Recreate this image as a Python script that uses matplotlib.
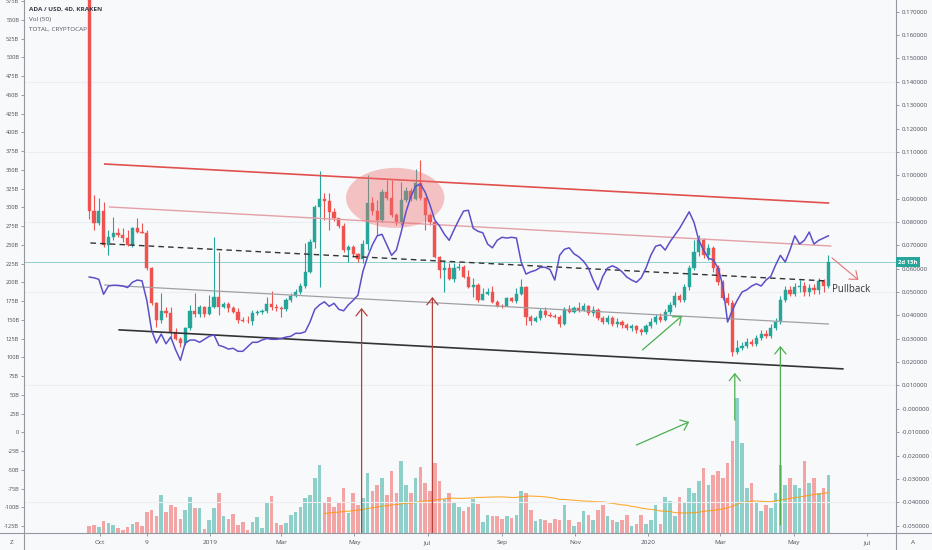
import numpy as np
import pandas as pd
import matplotlib
matplotlib.use("Agg")
import matplotlib.pyplot as plt
import matplotlib.dates as mdates
from matplotlib.patches import Ellipse
from matplotlib.lines import Line2D

plt.rcParams['font.family'] = ['Open Sans', 'DejaVu Sans']

# ---- data (4D bars, ADA/USD on Kraken) ----
first_bar = "2018-09-22"
first_open = 0.2050

close = [
    0.0848, 0.0797, 0.0848, 0.0701, 0.0734, 0.0754, 0.0744, 0.0730, 0.0701, 0.0773,
    0.0758, 0.0754, 0.0602, 0.0452, 0.0380, 0.0420, 0.0412, 0.0330, 0.0298, 0.0281,
    0.0345, 0.0420, 0.0406, 0.0435, 0.0406, 0.0437, 0.0480, 0.0437, 0.0448, 0.0430,
    0.0416, 0.0380, 0.0377, 0.0374, 0.0412, 0.0415, 0.0419, 0.0448, 0.0437, 0.0432,
    0.0426, 0.0466, 0.0484, 0.0502, 0.0526, 0.0587, 0.0716, 0.0863, 0.0897, 0.0890,
    0.0844, 0.0816, 0.0783, 0.0680, 0.0694, 0.0663, 0.0640, 0.0706, 0.0880, 0.0848,
    0.0808, 0.0930, 0.0901, 0.0830, 0.0794, 0.0894, 0.0934, 0.0897, 0.0965, 0.0901,
    0.0830, 0.0801, 0.0651, 0.0594, 0.0603, 0.0555, 0.0602, 0.0606, 0.0566, 0.0520,
    0.0530, 0.0466, 0.0492, 0.0500, 0.0459, 0.0440, 0.0439, 0.0473, 0.0463, 0.0490,
    0.0520, 0.0395, 0.0377, 0.0388, 0.0419, 0.0402, 0.0398, 0.0395, 0.0363, 0.0426,
    0.0416, 0.0433, 0.0423, 0.0440, 0.0410, 0.0423, 0.0389, 0.0372, 0.0389, 0.0363,
    0.0372, 0.0359, 0.0346, 0.0355, 0.0338, 0.0329, 0.0355, 0.0372, 0.0393, 0.0380,
    0.0415, 0.0445, 0.0483, 0.0466, 0.0522, 0.0603, 0.0671, 0.0723, 0.0659, 0.0689,
    0.0603, 0.0543, 0.0475, 0.0453, 0.0243, 0.0261, 0.0269, 0.0286, 0.0278, 0.0303,
    0.0320, 0.0312, 0.0346, 0.0372, 0.0466, 0.0509, 0.0492, 0.0522, 0.0526, 0.0500,
    0.0517, 0.0509, 0.0548, 0.0526, 0.0629]

high = [
    0.2150, 0.0915, 0.0903, 0.0887, 0.0766, 0.0823, 0.0774, 0.0774, 0.0766, 0.0780,
    0.0817, 0.0796, 0.0766, 0.0609, 0.0459, 0.0496, 0.0437, 0.0437, 0.0346, 0.0309,
    0.0352, 0.0445, 0.0496, 0.0445, 0.0440, 0.0487, 0.0736, 0.0673, 0.0457, 0.0459,
    0.0440, 0.0432, 0.0393, 0.0398, 0.0423, 0.0423, 0.0427, 0.0480, 0.0506, 0.0449,
    0.0440, 0.0475, 0.0495, 0.0513, 0.0539, 0.0711, 0.0726, 0.0873, 0.1019, 0.0925,
    0.0923, 0.0860, 0.0817, 0.0794, 0.0701, 0.0701, 0.0667, 0.0723, 0.1001, 0.0908,
    0.0894, 0.0940, 0.0980, 0.0980, 0.0837, 0.0972, 0.0951, 0.0945, 0.1025, 0.1065,
    0.0908, 0.0837, 0.0808, 0.0654, 0.0637, 0.0623, 0.0623, 0.0626, 0.0616, 0.0594,
    0.0560, 0.0537, 0.0516, 0.0516, 0.0526, 0.0466, 0.0449, 0.0480, 0.0479, 0.0516,
    0.0557, 0.0526, 0.0402, 0.0398, 0.0432, 0.0437, 0.0415, 0.0406, 0.0402, 0.0437,
    0.0445, 0.0440, 0.0459, 0.0453, 0.0445, 0.0440, 0.0432, 0.0398, 0.0402, 0.0398,
    0.0389, 0.0380, 0.0368, 0.0363, 0.0359, 0.0346, 0.0363, 0.0389, 0.0406, 0.0410,
    0.0427, 0.0457, 0.0500, 0.0492, 0.0534, 0.0616, 0.0723, 0.0744, 0.0731, 0.0706,
    0.0697, 0.0616, 0.0552, 0.0496, 0.0466, 0.0295, 0.0286, 0.0303, 0.0298, 0.0316,
    0.0338, 0.0338, 0.0363, 0.0389, 0.0483, 0.0526, 0.0526, 0.0539, 0.0552, 0.0543,
    0.0534, 0.0534, 0.0560, 0.0557, 0.0659]

low = [
    0.0813, 0.0766, 0.0787, 0.0694, 0.0659, 0.0723, 0.0736, 0.0716, 0.0697, 0.0694,
    0.0753, 0.0751, 0.0594, 0.0445, 0.0352, 0.0368, 0.0395, 0.0309, 0.0295, 0.0266,
    0.0273, 0.0338, 0.0395, 0.0395, 0.0395, 0.0402, 0.0432, 0.0402, 0.0432, 0.0416,
    0.0410, 0.0366, 0.0372, 0.0366, 0.0359, 0.0402, 0.0406, 0.0409, 0.0423, 0.0419,
    0.0395, 0.0419, 0.0459, 0.0479, 0.0492, 0.0517, 0.0580, 0.0687, 0.0523, 0.0808,
    0.0766, 0.0804, 0.0774, 0.0673, 0.0630, 0.0651, 0.0630, 0.0623, 0.0680, 0.0830,
    0.0744, 0.0801, 0.0894, 0.0823, 0.0787, 0.0787, 0.0885, 0.0890, 0.0894, 0.0894,
    0.0766, 0.0787, 0.0644, 0.0560, 0.0502, 0.0552, 0.0544, 0.0594, 0.0560, 0.0516,
    0.0480, 0.0459, 0.0466, 0.0487, 0.0452, 0.0435, 0.0432, 0.0440, 0.0457, 0.0454,
    0.0487, 0.0359, 0.0359, 0.0372, 0.0380, 0.0395, 0.0393, 0.0389, 0.0352, 0.0359,
    0.0409, 0.0410, 0.0416, 0.0419, 0.0402, 0.0398, 0.0380, 0.0363, 0.0363, 0.0355,
    0.0350, 0.0346, 0.0338, 0.0333, 0.0325, 0.0316, 0.0320, 0.0346, 0.0363, 0.0372,
    0.0376, 0.0406, 0.0436, 0.0457, 0.0457, 0.0509, 0.0594, 0.0654, 0.0646, 0.0637,
    0.0586, 0.0530, 0.0466, 0.0445, 0.0226, 0.0235, 0.0252, 0.0261, 0.0269, 0.0269,
    0.0295, 0.0303, 0.0303, 0.0338, 0.0363, 0.0457, 0.0483, 0.0483, 0.0500, 0.0483,
    0.0483, 0.0492, 0.0492, 0.0500, 0.0517]

# volume, millions of ADA
volume = [
    15, 17, 13, 25, 21, 16, 11, 6, 13, 18,
    23, 14, 43, 47, 34, 76, 43, 57, 53, 28,
    46, 72, 51, 51, 9, 26, 51, 80, 34, 29,
    39, 17, 23, 7, 22, 33, 11, 61, 74, 21,
    17, 21, 37, 43, 53, 70, 76, 110, 136, 60,
    72, 52, 60, 90, 40, 80, 56, 70, 120, 84,
    96, 110, 76, 124, 80, 144, 96, 80, 110, 132,
    100, 84, 140, 104, 68, 80, 60, 52, 44, 52,
    68, 58, 22, 36, 34, 34, 28, 34, 30, 36,
    84, 80, 46, 25, 29, 27, 21, 29, 26, 56,
    26, 14, 23, 45, 36, 27, 46, 56, 34, 27,
    23, 26, 36, 14, 18, 36, 19, 27, 57, 18,
    72, 64, 34, 72, 60, 90, 80, 104, 130, 96,
    116, 124, 110, 140, 184, 270, 180, 90, 100, 60,
    44, 56, 50, 80, 136, 96, 110, 96, 90, 144,
    100, 110, 80, 90, 116]

# TOTAL crypto market cap, billions USD (left scale)
total_cap = [
    207, 206, 204, 184, 195, 196, 196, 195, 193, 200,
    203, 202, 176, 136, 119, 131, 118, 127, 110, 96,
    119, 123, 123, 120, 124, 128, 130, 116, 114, 111,
    112, 108, 108, 114, 120, 120, 123, 125, 124, 124,
    125, 127, 128, 132, 132, 134, 147, 164, 170, 174,
    168, 172, 164, 162, 170, 176, 183, 214, 234, 250,
    262, 264, 250, 236, 243, 267, 294, 314, 328, 331,
    320, 303, 283, 275, 264, 256, 270, 283, 295, 296,
    272, 268, 266, 251, 246, 256, 260, 259, 260, 259,
    227, 211, 214, 216, 220, 220, 217, 203, 236, 244,
    246, 238, 234, 228, 219, 203, 190, 208, 219, 222,
    219, 214, 207, 203, 200, 206, 219, 236, 248, 250,
    243, 254, 263, 272, 283, 294, 280, 256, 243, 232,
    230, 219, 196, 147, 163, 176, 187, 190, 195, 198,
    195, 203, 208, 223, 236, 227, 243, 262, 251, 256,
    267, 251, 256, 259, 262]

# drawings on the chart: (dates, prices)
channel_top = (["2018-10-05", "2020-05-30"], [0.1048, 0.0881])
channel_pink = (["2018-10-09", "2020-06-01"], [0.0864, 0.0697])
channel_mid = (["2018-09-23", "2020-05-30"], [0.0710, 0.0547])
channel_grey = (["2018-10-05", "2020-05-30"], [0.0530, 0.0363])
channel_low = (["2018-10-17", "2020-06-11"], [0.0338, 0.0171])
top_zone = ("2019-06-04", 0.0903)
red_arrows = [("2019-05-07", -0.053, 0.0432), ("2019-07-05", -0.053, 0.0479)]
green_arrows = [(("2019-12-27", 0.0252), ("2020-01-29", 0.0398)),
                (("2019-12-22", -0.0155), ("2020-02-04", -0.0056)),
                (("2020-03-13", -0.0048), ("2020-03-13", 0.0154)),
                (("2020-04-20", -0.0497), ("2020-04-20", 0.0269))]
pull_arrow = (("2020-06-02", 0.0646), ("2020-06-24", 0.0552))

month_ticks = ["2018-10-01", "2018-11-09", "2019-01-01", "2019-03-01", "2019-05-01",
               "2019-07-01", "2019-09-01", "2019-11-01", "2020-01-01", "2020-03-01",
               "2020-05-01", "2020-07-01"]
month_labels = ["Oct", "9", "2019", "Mar", "May", "Jul", "Sep", "Nov", "2020",
                "Mar", "May", "Jul"]

# ---- derived ----
close = np.array(close)
opens = np.r_[first_open, close[:-1]]
high = np.maximum(np.array(high), np.maximum(opens, close))
low = np.minimum(np.array(low), np.minimum(opens, close))
dates = pd.date_range(first_bar, periods=len(close), freq="4D")
x = mdates.date2num(dates.to_pydatetime())
up = close >= opens
GREEN, RED = '#26a69a', '#ef5350'
cols = np.where(up, GREEN, RED)
vol_ma = pd.Series(volume, dtype=float).rolling(50).mean()


def d2n(s):
    return mdates.date2num(pd.Timestamp(s).to_pydatetime())


BG = '#f8f9fb'
fig = plt.figure(figsize=(9.32, 5.5), dpi=100, facecolor=BG)
rect = [24 / 932, 17 / 550, 872 / 932, 533 / 550]
ax_vol = fig.add_axes(rect)
ax = fig.add_axes(rect, sharex=ax_vol)
ax_tot = fig.add_axes(rect, sharex=ax_vol)
ax_vol.set_facecolor(BG)
for a in (ax, ax_tot):
    a.patch.set_alpha(0)
for a in (ax_vol, ax, ax_tot):
    for s in a.spines.values():
        s.set_visible(False)

ax_vol.set_xlim(d2n("2018-07-29 16:00"), d2n("2020-07-25 08:00"))

# volume
ax_vol.bar(x, volume, width=2.9, color=cols, alpha=0.5, linewidth=0)
ax_vol.plot(x, vol_ma, color='#ff9800', lw=0.8, alpha=0.8)
ax_vol.set_ylim(0, 1066)
ax_vol.set_yticks([])
ax_vol.set_xticks([d2n(d) for d in month_ticks])
ax_vol.set_xticklabels(month_labels)
ax_vol.tick_params(axis='x', direction='out', length=2, width=0.6, color='#8a8d96',
                   labelsize=4.6, labelcolor='#4a4d57', pad=3)

# price
for lvl in [0.14, 0.11, 0.08, 0.05, 0.01, -0.04]:
    ax.axhline(lvl, color='#eceef2', lw=0.8, zorder=0)
ax.axhline(close[-1], color=GREEN, lw=0.7, alpha=0.5, zorder=1)
ax.vlines(x, low, high, colors=cols, lw=0.8, zorder=3)
ax.bar(x, close - opens, bottom=opens, width=2.8, color=cols, edgecolor=cols,
       linewidth=0.3, zorder=4)
ax.set_ylim(-0.05316, 0.17501)

# channel drawings
for (dd, pp), c, lw, ls in [(channel_top, '#e0504c', 1.2, '-'),
                            (channel_pink, '#e3a0a6', 1.0, '-'),
                            (channel_mid, '#333333', 1.0, (0, (4, 3))),
                            (channel_grey, '#a0a0a4', 0.9, '-'),
                            (channel_low, '#333333', 1.2, '-')]:
    ax.plot([d2n(d) for d in dd], pp, color=c, lw=lw, ls=ls, zorder=5)

ax.add_patch(Ellipse((d2n(top_zone[0]), top_zone[1]), width=82, height=0.0257,
                     facecolor='#ef6f6f', alpha=0.4, edgecolor='none', zorder=6))

for d, p0, p1 in red_arrows:
    ax.annotate('', xy=(d2n(d), p1), xytext=(d2n(d), p0),
                arrowprops=dict(arrowstyle='->,head_length=0.5,head_width=0.4',
                                color='#b5413c', lw=0.9, mutation_scale=10,
                                shrinkA=0, shrinkB=0), zorder=7)
for (d0, p0), (d1, p1) in green_arrows:
    ax.annotate('', xy=(d2n(d1), p1), xytext=(d2n(d0), p0),
                arrowprops=dict(arrowstyle='->,head_length=0.5,head_width=0.4',
                                color='#4caf50', lw=0.9, mutation_scale=10,
                                shrinkA=0, shrinkB=0), zorder=7)
(d0, p0), (d1, p1) = pull_arrow
ax.annotate('', xy=(d2n(d1), p1), xytext=(d2n(d0), p0),
            arrowprops=dict(arrowstyle='->,head_length=0.5,head_width=0.4',
                            color='#e57373', lw=0.8, mutation_scale=10,
                            shrinkA=0, shrinkB=0), zorder=7)
ax.text(d2n("2020-06-02"), 0.0509, "Pullback", fontsize=7, color='#333333',
        ha='left', va='center', zorder=8)

price_ticks = np.round(np.arange(-0.05, 0.1701, 0.01), 2)
ax.yaxis.tick_right()
ax.set_yticks(price_ticks)
ax.set_yticklabels(["-0.000000" if v == 0 else f"{v:.6f}" for v in price_ticks])
ax.tick_params(axis='y', direction='out', length=2.5, width=0.6, color='#8a8d96',
               labelsize=4.4, labelcolor='#4a4d57', pad=1.5)
ax.tick_params(axis='x', bottom=False, labelbottom=False)

# TOTAL market cap on the left scale
ax_tot.plot(x, total_cap, color='#5b50c8', lw=1.1, zorder=5)
ax_tot.set_ylim(-134.27, 576.4)
cap_ticks = np.arange(-125, 576, 25)
ax_tot.yaxis.tick_left()
ax_tot.set_yticks(cap_ticks)
ax_tot.set_yticklabels(["0" if v == 0 else f"{v}B" for v in cap_ticks])
ax_tot.tick_params(axis='y', direction='out', length=2.5, width=0.6, color='#8a8d96',
                   labelsize=4.1, labelcolor='#4a4d57', pad=1)
ax_tot.tick_params(axis='x', bottom=False, labelbottom=False)

# frame lines of the chart pane
fc = '#9598a1'
fig.add_artist(Line2D([24 / 932, 24 / 932], [0, 1], transform=fig.transFigure, color=fc, lw=0.8))
fig.add_artist(Line2D([896 / 932, 896 / 932], [0, 1], transform=fig.transFigure, color=fc, lw=0.8))
fig.add_artist(Line2D([0, 1], [17 / 550, 17 / 550], transform=fig.transFigure, color=fc, lw=0.8))

# legend / labels
fig.text(29 / 932, 1 - 9 / 550, "ADA / USD, 4D, KRAKEN", fontsize=4.6, weight='bold',
         color='#3a3d47', va='center')
fig.text(29 / 932, 1 - 19.5 / 550, "Vol (50)", fontsize=4.6, color='#50535e', va='center')
fig.text(29 / 932, 1 - 29 / 550, "TOTAL, CRYPTOCAP", fontsize=4.6, color='#50535e', va='center')
fig.text(898 / 932, 1 - 262 / 550, "2d 15h", fontsize=4.3, weight='bold', color='white',
         ha='left', va='center',
         bbox=dict(boxstyle='square,pad=0.35', fc=GREEN, ec='none'))
fig.text(12 / 932, 8 / 550, "Z", fontsize=4.6, color='#50535e', ha='center', va='center')
fig.text(913 / 932, 8 / 550, "A", fontsize=4.6, color='#50535e', ha='center', va='center')

fig.savefig("out.png", dpi=100, facecolor=BG)
